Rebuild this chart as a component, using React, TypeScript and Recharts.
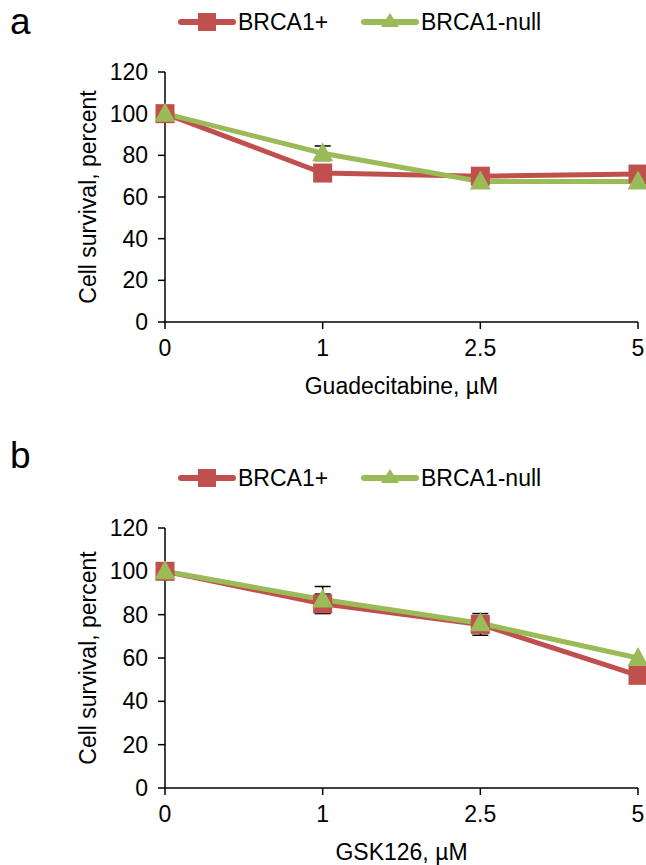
import React from "react";
import {
  LineChart,
  Line,
  XAxis,
  YAxis,
  Legend,
  ErrorBar,
} from "recharts";

// doses on the x axis (µM)
const DOSES = ["0", "1", "2.5", "5"];
const Y_TICKS = [0, 20, 40, 60, 80, 100, 120];

// panel a: guadecitabine
const GUAD_BRCA1 = [100, 71.5, 70, 71];
const GUAD_BRCA1_ERR = [0, 1.5, 1.5, 1.5];
const GUAD_NULL = [100, 81, 67.5, 67.5];
const GUAD_NULL_ERR = [0, 3.5, 1, 1];

// panel b: GSK126
const GSK_BRCA1 = [100, 85, 75.5, 52];
const GSK_BRCA1_ERR = [0, 4.5, 5, 1.5];
const GSK_NULL = [100, 87, 76, 60];
const GSK_NULL_ERR = [0, 6, 3, 0];

const RED = "#C0504D";
const GREEN = "#9BBB59";
const FONT = "'Liberation Sans', Arial, sans-serif";
const FS = 23;

const Square = (props: any) => {
  const { cx, cy } = props;
  if (cx == null || cy == null) return null;
  return <rect x={cx - 9.5} y={cy - 9.5} width={19} height={19} fill={RED} />;
};

const Triangle = (props: any) => {
  const { cx, cy } = props;
  if (cx == null || cy == null) return null;
  return (
    <polygon
      points={`${cx},${cy - 11} ${cx - 10.5},${cy + 8} ${cx + 10.5},${cy + 8}`}
      fill={GREEN}
    />
  );
};

// legend drawn with the same marker shapes as the series
const LegendBox = (props: any) => {
  const items = props.payload || [];
  const lefts = [0, 183];
  return (
    <div style={{ position: "relative", height: 26, fontFamily: FONT, fontSize: FS }}>
      {items.map((it: any, i: number) => (
        <div
          key={it.value}
          style={{ position: "absolute", left: lefts[i], top: 0, display: "flex", alignItems: "center" }}
        >
          <svg width={58} height={24}>
            <line x1={3} y1={12} x2={55} y2={12} stroke={it.color} strokeWidth={6} strokeLinecap="round" />
            {i === 0 ? (
              <rect x={20} y={3} width={18} height={18} fill={it.color} />
            ) : (
              <polygon points="29,3 20,17 38,17" fill={it.color} />
            )}
          </svg>
          <span style={{ color: "#000", marginLeft: 2, lineHeight: "24px" }}>{it.value}</span>
        </div>
      ))}
    </div>
  );
};

const YLabel = (props: any) => {
  const { viewBox } = props;
  const cy = viewBox.y + viewBox.height / 2;
  return (
    <text
      x={88}
      y={cy}
      transform={`rotate(-90 88 ${cy})`}
      textAnchor="middle"
      dominantBaseline="central"
      fontFamily={FONT}
      fontSize={FS}
      fill="#000"
    >
      Cell survival, percent
    </text>
  );
};

type PanelProps = {
  top: number;
  plotHeight: number;
  brca: number[];
  brcaErr: number[];
  nul: number[];
  nulErr: number[];
  xLabel: string;
};

const Panel = ({ top, plotHeight, brca, brcaErr, nul, nulErr, xLabel }: PanelProps) => {
  const data = DOSES.map((d, i) => ({
    dose: d,
    brca: brca[i],
    brcaErr: brcaErr[i],
    nul: nul[i],
    nulErr: nulErr[i],
  }));
  const mTop = 72;
  const xAxisH = 90;
  const height = mTop + plotHeight + xAxisH;
  const tickStyle = { fill: "#000", fontSize: FS, fontFamily: FONT };
  return (
    <div style={{ position: "absolute", left: 0, top }}>
      <LineChart
        width={646}
        height={height}
        data={data}
        margin={{ top: mTop, right: 8, left: 0, bottom: 0 }}
      >
        <XAxis
          dataKey="dose"
          height={xAxisH}
          stroke="#000"
          strokeWidth={1.5}
          tickSize={7}
          tickMargin={11}
          tick={tickStyle}
          label={{
            value: xLabel,
            position: "insideTop",
            offset: 56,
            fill: "#000",
            fontSize: FS,
            fontFamily: FONT,
          }}
        />
        <YAxis
          width={165}
          domain={[0, 120]}
          ticks={Y_TICKS}
          interval={0}
          stroke="#000"
          strokeWidth={1.5}
          tickSize={7}
          tickMargin={10}
          tick={tickStyle}
          label={<YLabel />}
        />
        <Legend
          layout="horizontal"
          verticalAlign="middle"
          align="center"
          wrapperStyle={{ top: 10, left: 178, width: 420 }}
          content={<LegendBox />}
        />
        <Line
          dataKey="brca"
          name="BRCA1+"
          stroke={RED}
          strokeWidth={5}
          dot={<Square />}
          activeDot={false}
          isAnimationActive={false}
        >
          <ErrorBar dataKey="brcaErr" direction="y" width={8} stroke="#000" strokeWidth={1.5} isAnimationActive={false} />
        </Line>
        <Line
          dataKey="nul"
          name="BRCA1-null"
          stroke={GREEN}
          strokeWidth={5}
          dot={<Triangle />}
          activeDot={false}
          isAnimationActive={false}
        >
          <ErrorBar dataKey="nulErr" direction="y" width={8} stroke="#000" strokeWidth={1.5} isAnimationActive={false} />
        </Line>
      </LineChart>
    </div>
  );
};

export default function App() {
  return (
    <div style={{ position: "absolute", left: 0, top: 0, width: 646, height: 865, background: "#fff", fontFamily: FONT }}>
      <div style={{ position: "absolute", left: 10, top: 2, fontSize: 37, lineHeight: "40px" }}>a</div>
      <div style={{ position: "absolute", left: 10, top: 436, fontSize: 37, lineHeight: "40px" }}>b</div>
      <Panel
        top={0}
        plotHeight={250}
        brca={GUAD_BRCA1}
        brcaErr={GUAD_BRCA1_ERR}
        nul={GUAD_NULL}
        nulErr={GUAD_NULL_ERR}
        xLabel="Guadecitabine, µM"
      />
      <Panel
        top={456}
        plotHeight={260}
        brca={GSK_BRCA1}
        brcaErr={GSK_BRCA1_ERR}
        nul={GSK_NULL}
        nulErr={GSK_NULL_ERR}
        xLabel="GSK126, µM"
      />
    </div>
  );
}
